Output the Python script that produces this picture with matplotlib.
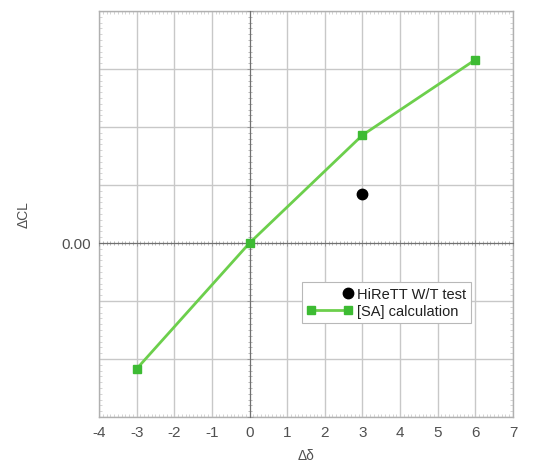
import matplotlib
matplotlib.use('Agg')
import matplotlib.pyplot as plt
from matplotlib.legend_handler import HandlerLine2D, HandlerLine2DCompound
from matplotlib.ticker import MultipleLocator, FixedLocator

# data (y in grid units, one unit per grid line)
calc_x = [-3, 0, 3, 6]
calc_y = [-2.17, 0.0, 1.86, 3.16]
test_x = [3]
test_y = [0.85]

xticks = [-4, -3, -2, -1, 0, 1, 2, 3, 4, 5, 6, 7]

plt.rcParams['font.family'] = ['Liberation Sans', 'DejaVu Sans']

grid_c = '#c8c8c8'
text_c = '#505050'


class RightDot(HandlerLine2DCompound):
    """single marker drawn at the right end of the handle"""
    def get_xdata(self, legend, xdescent, ydescent, width, height, fontsize):
        xdata, _ = super().get_xdata(legend, xdescent, ydescent, width, height, fontsize)
        return xdata, [-xdescent + width - 3]


fig = plt.figure(figsize=(5.48, 4.77), dpi=100)
ax = fig.add_axes([99 / 548, 59 / 477, 414 / 548, 406 / 477])

ax.set_xlim(-4, 7)
ax.set_ylim(-3, 4)
ax.xaxis.set_major_locator(FixedLocator(xticks))
ax.yaxis.set_major_locator(MultipleLocator(1))
ax.xaxis.set_minor_locator(MultipleLocator(0.1))
ax.yaxis.set_minor_locator(MultipleLocator(0.1))
ax.set_xticklabels([str(t) for t in xticks])
ax.set_yticklabels(['0.00' if abs(v) < 1e-9 else '' for v in ax.get_yticks()])
ax.grid(True, which='major', color=grid_c, lw=1.0, zorder=0)
for s in ax.spines.values():
    s.set_color('#b0b0b0')
    s.set_linewidth(1.0)
ax.tick_params(which='both', direction='in', top=True, right=True, colors='#c4c4c4',
               labelcolor=text_c, labelsize=11)
ax.tick_params(which='major', length=0, pad=6)
ax.tick_params(which='minor', length=2.5, width=0.5)

# zero axes with their own ticks
ax2 = fig.add_axes(ax.get_position(), frameon=False, sharex=ax, sharey=ax)
ax2.patch.set_visible(False)
for k in ['top', 'right']:
    ax2.spines[k].set_visible(False)
ax2.set_frame_on(True)
ax2.spines['left'].set_position(('data', 0))
ax2.spines['bottom'].set_position(('data', 0))
ax2.spines['left'].set_color('#707070')
ax2.spines['bottom'].set_color('#707070')
ax2.tick_params(which='both', direction='inout', colors='#9a9a9a',
                labelbottom=False, labelleft=False)
ax2.tick_params(which='major', length=5, width=0.7)
ax2.tick_params(which='minor', length=3.5, width=0.5)

ax.set_xlabel('Δδ', color=text_c, fontsize=10, labelpad=6)
ax.set_ylabel('ΔCL', color=text_c, fontsize=10, labelpad=22)

line_calc, = ax2.plot(calc_x, calc_y, color='#6ccf4c', lw=2, marker='s', ms=6,
                      mfc='#3dbb33', mec='#3dbb33', zorder=5, clip_on=False,
                      label='[SA] calculation')
dot_test, = ax2.plot(test_x, test_y, ls='none', marker='o', ms=7.5, color='black',
                     zorder=6, label='HiReTT W/T test')

leg = ax2.legend(handles=[dot_test, line_calc], loc='upper left',
                 bbox_to_anchor=(0.49, 0.333), fontsize=10.5, frameon=True,
                 fancybox=False, framealpha=1, edgecolor='#b8b8b8',
                 handlelength=3.1, handletextpad=0.3, borderpad=0.35,
                 labelspacing=0.2, borderaxespad=0,
                 handler_map={dot_test: RightDot(), line_calc: HandlerLine2D(numpoints=2)})
for t in leg.get_texts():
    t.set_color('#202020')
leg.get_frame().set_linewidth(0.8)

fig.savefig('out.png', dpi=100)
